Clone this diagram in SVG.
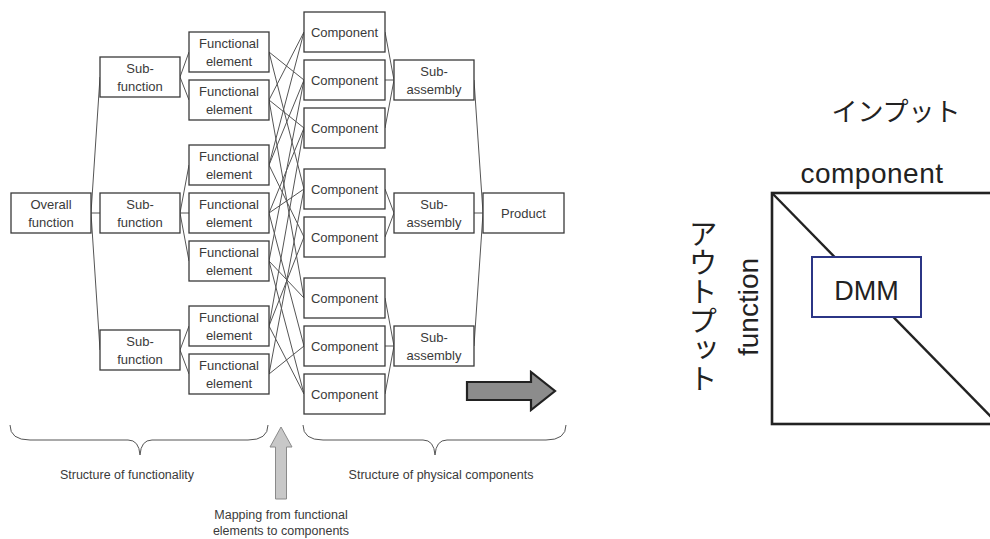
<svg xmlns="http://www.w3.org/2000/svg" width="990" height="539" viewBox="0 0 990 539">
  <style>
    .bx { fill: #fff; stroke: #3a3a3a; stroke-width: 1.3; }
    .lk { fill: none; stroke: #555; stroke-width: 1; }
    .t { font-family: "Liberation Sans", Arial, sans-serif; font-size: 13px; fill: #3a3a3a; text-anchor: middle; }
    .cap { font-family: "Liberation Sans", Arial, sans-serif; font-size: 12.5px; fill: #3a3a3a; text-anchor: middle; }
    .brace { fill: none; stroke: #555; stroke-width: 1; }
    .big { font-family: "Liberation Sans", Arial, sans-serif; fill: #222; text-anchor: middle; }
    .jp { font-family: "Noto Sans CJK JP", sans-serif; fill: #222; }
  </style>
  <rect width="990" height="539" fill="#fff"/>

  <!-- tree and mapping connectors -->
  <g id="connectors" class="lk">
    <!-- overall function to sub-functions -->
    <line x1="91" y1="213" x2="100" y2="77"/>
    <line x1="91" y1="213" x2="100" y2="213"/>
    <line x1="91" y1="213" x2="100" y2="350"/>
    <!-- sub-functions to functional elements -->
    <line x1="180" y1="77" x2="189" y2="52"/>
    <line x1="180" y1="77" x2="189" y2="100"/>
    <line x1="180" y1="213" x2="189" y2="165"/>
    <line x1="180" y1="213" x2="189" y2="213"/>
    <line x1="180" y1="213" x2="189" y2="261"/>
    <line x1="180" y1="350" x2="189" y2="326"/>
    <line x1="180" y1="350" x2="189" y2="374"/>
    <!-- functional elements to components -->
    <line x1="269" y1="52" x2="304" y2="80"/>
    <line x1="269" y1="52" x2="304" y2="189"/>
    <line x1="269" y1="100" x2="304" y2="32"/>
    <line x1="269" y1="100" x2="304" y2="128"/>
    <line x1="269" y1="100" x2="304" y2="298"/>
    <line x1="269" y1="165" x2="304" y2="32"/>
    <line x1="269" y1="165" x2="304" y2="80"/>
    <line x1="269" y1="165" x2="304" y2="237"/>
    <line x1="269" y1="213" x2="304" y2="128"/>
    <line x1="269" y1="213" x2="304" y2="189"/>
    <line x1="269" y1="213" x2="304" y2="346"/>
    <line x1="269" y1="261" x2="304" y2="80"/>
    <line x1="269" y1="261" x2="304" y2="298"/>
    <line x1="269" y1="261" x2="304" y2="394"/>
    <line x1="269" y1="326" x2="304" y2="128"/>
    <line x1="269" y1="326" x2="304" y2="237"/>
    <line x1="269" y1="326" x2="304" y2="394"/>
    <line x1="269" y1="374" x2="304" y2="189"/>
    <line x1="269" y1="374" x2="304" y2="346"/>
    <!-- components to sub-assemblies -->
    <line x1="385" y1="32" x2="394" y2="80"/>
    <line x1="385" y1="80" x2="394" y2="80"/>
    <line x1="385" y1="128" x2="394" y2="80"/>
    <line x1="385" y1="189" x2="394" y2="213"/>
    <line x1="385" y1="237" x2="394" y2="213"/>
    <line x1="385" y1="298" x2="394" y2="346"/>
    <line x1="385" y1="346" x2="394" y2="346"/>
    <line x1="385" y1="394" x2="394" y2="346"/>
    <!-- sub-assemblies to product -->
    <line x1="474" y1="80" x2="483" y2="213"/>
    <line x1="474" y1="213" x2="483" y2="213"/>
    <line x1="474" y1="346" x2="483" y2="213"/>
  </g>

  <!-- function side -->
  <g id="overall">
    <rect class="bx" x="11" y="193" width="80" height="40"/>
    <text class="t" x="51" y="209">Overall</text>
    <text class="t" x="51" y="227">function</text>
  </g>
  <g id="sf1">
    <rect class="bx" x="100" y="57" width="80" height="40"/>
    <text class="t" x="140" y="73">Sub-</text>
    <text class="t" x="140" y="91">function</text>
  </g>
  <g id="sf2">
    <rect class="bx" x="100" y="193" width="80" height="40"/>
    <text class="t" x="140" y="209">Sub-</text>
    <text class="t" x="140" y="227">function</text>
  </g>
  <g id="sf3">
    <rect class="bx" x="100" y="330" width="80" height="40"/>
    <text class="t" x="140" y="346">Sub-</text>
    <text class="t" x="140" y="364">function</text>
  </g>

  <g id="fe1">
    <rect class="bx" x="189" y="32" width="80" height="40"/>
    <text class="t" x="229" y="48">Functional</text>
    <text class="t" x="229" y="66">element</text>
  </g>
  <g id="fe2">
    <rect class="bx" x="189" y="80" width="80" height="40"/>
    <text class="t" x="229" y="96">Functional</text>
    <text class="t" x="229" y="114">element</text>
  </g>
  <g id="fe3">
    <rect class="bx" x="189" y="145" width="80" height="40"/>
    <text class="t" x="229" y="161">Functional</text>
    <text class="t" x="229" y="179">element</text>
  </g>
  <g id="fe4">
    <rect class="bx" x="189" y="193" width="80" height="40"/>
    <text class="t" x="229" y="209">Functional</text>
    <text class="t" x="229" y="227">element</text>
  </g>
  <g id="fe5">
    <rect class="bx" x="189" y="241" width="80" height="40"/>
    <text class="t" x="229" y="257">Functional</text>
    <text class="t" x="229" y="275">element</text>
  </g>
  <g id="fe6">
    <rect class="bx" x="189" y="306" width="80" height="40"/>
    <text class="t" x="229" y="322">Functional</text>
    <text class="t" x="229" y="340">element</text>
  </g>
  <g id="fe7">
    <rect class="bx" x="189" y="354" width="80" height="40"/>
    <text class="t" x="229" y="370">Functional</text>
    <text class="t" x="229" y="388">element</text>
  </g>

  <!-- physical side -->
  <g id="c1"><rect class="bx" x="304" y="12" width="81" height="40"/><text class="t" x="344.5" y="37">Component</text></g>
  <g id="c2"><rect class="bx" x="304" y="60" width="81" height="40"/><text class="t" x="344.5" y="85">Component</text></g>
  <g id="c3"><rect class="bx" x="304" y="108" width="81" height="40"/><text class="t" x="344.5" y="133">Component</text></g>
  <g id="c4"><rect class="bx" x="304" y="169" width="81" height="40"/><text class="t" x="344.5" y="194">Component</text></g>
  <g id="c5"><rect class="bx" x="304" y="217" width="81" height="40"/><text class="t" x="344.5" y="242">Component</text></g>
  <g id="c6"><rect class="bx" x="304" y="278" width="81" height="40"/><text class="t" x="344.5" y="303">Component</text></g>
  <g id="c7"><rect class="bx" x="304" y="326" width="81" height="40"/><text class="t" x="344.5" y="351">Component</text></g>
  <g id="c8"><rect class="bx" x="304" y="374" width="81" height="40"/><text class="t" x="344.5" y="399">Component</text></g>

  <g id="sa1">
    <rect class="bx" x="394" y="60" width="80" height="40"/>
    <text class="t" x="434" y="76">Sub-</text>
    <text class="t" x="434" y="94">assembly</text>
  </g>
  <g id="sa2">
    <rect class="bx" x="394" y="193" width="80" height="40"/>
    <text class="t" x="434" y="209">Sub-</text>
    <text class="t" x="434" y="227">assembly</text>
  </g>
  <g id="sa3">
    <rect class="bx" x="394" y="326" width="80" height="40"/>
    <text class="t" x="434" y="342">Sub-</text>
    <text class="t" x="434" y="360">assembly</text>
  </g>
  <g id="product">
    <rect class="bx" x="483" y="193" width="81" height="40"/>
    <text class="t" x="523.5" y="218">Product</text>
  </g>

  <!-- braces and captions -->
  <g id="brace-functionality">
    <path class="brace" d="M10,425 Q10,440 30,440 L128,440 Q139,440 140,455 Q141,440 152,440 L248,440 Q268,440 268,425"/>
    <text class="cap" x="127" y="479">Structure of functionality</text>
  </g>
  <g id="brace-physical">
    <path class="brace" d="M303,425 Q303,440 323,440 L423,440 Q434,440 435,455 Q436,440 447,440 L546,440 Q566,440 566,425"/>
    <text class="cap" x="441" y="479" font-size="13">Structure of physical components</text>
  </g>
  <g id="mapping">
    <polygon points="281,427 292,447 286.5,447 286.5,499 275.5,499 275.5,447 270,447" fill="#c8c8c8" stroke="#8a8a8a" stroke-width="1"/>
    <text class="cap" x="281" y="519">Mapping from functional</text>
    <text class="cap" x="281" y="535">elements to components</text>
  </g>

  <!-- transition arrow -->
  <g id="arrow-right">
    <polygon points="467,382 531,382 531,372 555,391 531,410 531,400 467,400" fill="#8c8c8c" stroke="#222" stroke-width="2.2"/>
  </g>

  <!-- DMM matrix -->
  <g id="input-label">
    <text class="jp" x="896" y="121" font-size="26" text-anchor="middle">インプット</text>
  </g>
  <g id="output-label">
    <text class="jp" x="703" y="219" font-size="29" style="writing-mode: vertical-rl">アウトプット</text>
  </g>
  <g id="matrix">
    <text class="big" x="872" y="183" font-size="28" letter-spacing="0.5">component</text>
    <text class="big" transform="translate(758,307) rotate(-90)" font-size="28">function</text>
    <rect x="772" y="193" width="226" height="231" fill="none" stroke="#222" stroke-width="2.6"/>
    <line x1="772" y1="193" x2="998" y2="424" stroke="#222" stroke-width="2.4"/>
  </g>
  <g id="dmm">
    <rect x="812" y="257" width="109" height="60" fill="#fff" stroke="#2b3585" stroke-width="2"/>
    <text class="big" x="866.5" y="300" font-size="27">DMM</text>
  </g>
</svg>
